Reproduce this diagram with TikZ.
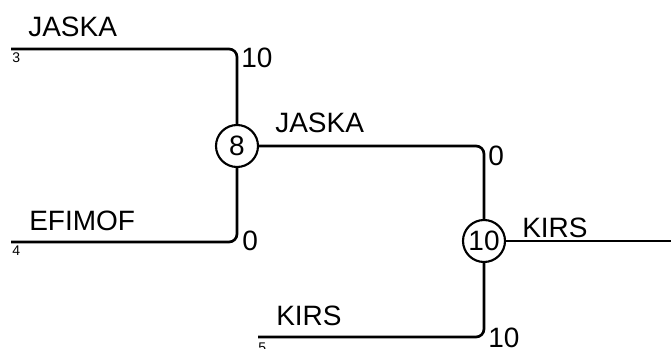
\documentclass[tikz,border=0pt]{standalone}
\usepackage{fontspec}
\setmainfont{Liberation Sans}
\begin{document}
\begin{tikzpicture}[x=0.75pt,y=-0.75pt,
  wire/.style={line width=2pt,rounded corners=6pt},
  lbl/.style={font=\fontsize{21}{25}\selectfont,inner sep=0pt,anchor=base west},
  small/.style={font=\fontsize{10.5}{12}\selectfont,inner sep=0pt,anchor=base west},
  match/.style={circle,draw,line width=1.6pt,minimum size=31.5pt,inner sep=0pt,font=\fontsize{21}{25}\selectfont}]
\useasboundingbox (0,0) rectangle (671,349);
\node[match] (n8) at (237,146) {8};
\node[match] (n10) at (484,241) {10};
\coordinate (s3) at (11,49);
\coordinate (s4) at (11,242);
\coordinate (s5) at (258,337);
\coordinate (out) at (671,241);
\draw[wire] (s3) -| (n8.north);
\draw[wire] (s4) -| (n8.south);
\draw[wire] (n8.east) -| (n10.north);
\draw[wire] (s5) -| (n10.south);
\draw[wire] (n10.east) -- (out);
\node[lbl] (l1) at (28,37) {JASKA};
\node[small] (p3) at (12,63) {3};
\node[lbl] (sc1) at (241,68) {10};
\node[lbl] (l2) at (275,133) {JASKA};
\node[lbl] (sc2) at (488,166) {0};
\node[lbl] (l3) at (29,230) {EFIMOF};
\node[small] (p4) at (12,255) {4};
\node[lbl] (sc3) at (242,250) {0};
\node[lbl] (l4) at (522,237) {KIRS};
\node[lbl] (l5) at (276,325) {KIRS};
\node[small] (p5) at (258,352) {5};
\node[lbl] (sc4) at (488,347) {10};
\end{tikzpicture}
\end{document}
